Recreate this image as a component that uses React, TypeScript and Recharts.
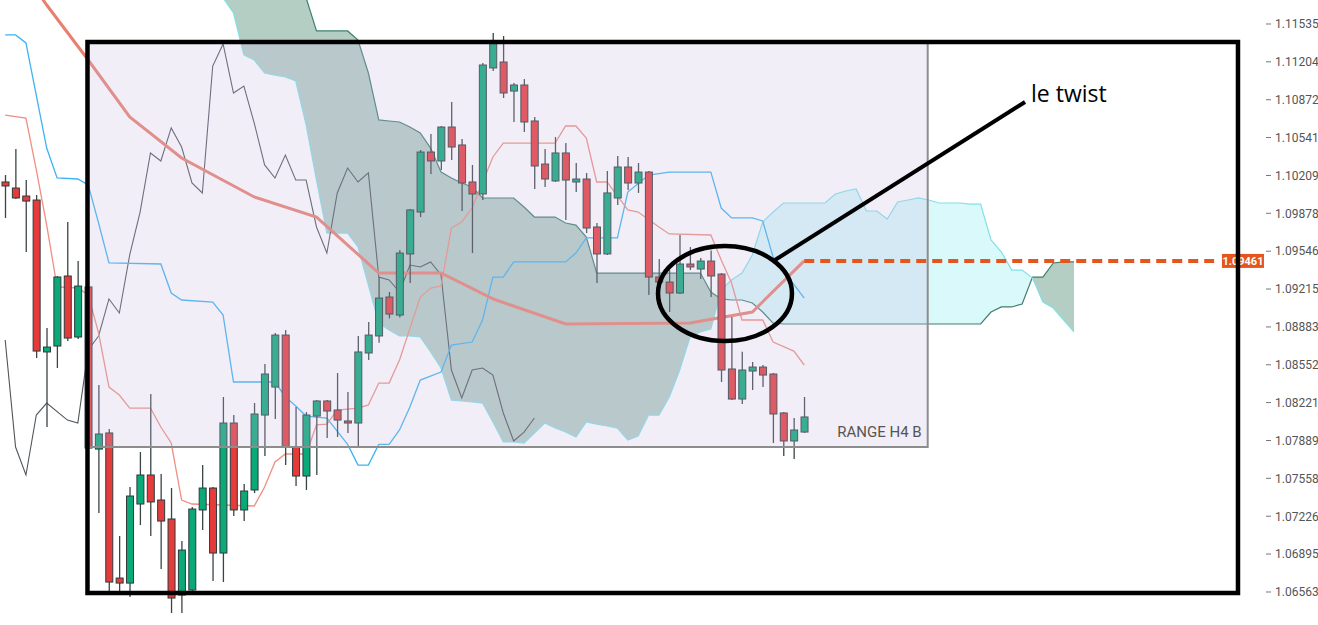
import { ComposedChart, Bar, Line, Area, XAxis, YAxis, ReferenceArea, ReferenceLine, ReferenceDot } from "recharts";

const W = 1318;
const H = 625;
const SLOTS = 122; // 78 candles + 26 forward cloud + right padding
const CLOUD_START = 21;

const Y_MIN = 1.06274;
const Y_MAX = 1.11745;

const priceTicks = [
  1.11535, 1.11204, 1.10872, 1.10541, 1.10209, 1.09878, 1.09546, 1.09215,
  1.08883, 1.08552, 1.08221, 1.07889, 1.07558, 1.07226, 1.06895, 1.06563,
];

const open = [
  1.10152, 1.10099, 1.10029, 1.09994, 1.08664, 1.08716, 1.09329, 1.08795, 1.09233, 1.07814,
  1.07955, 1.06685, 1.06641, 1.07333, 1.07587, 1.07368, 1.07202, 1.06536, 1.0658, 1.07281,
  1.07473, 1.06904, 1.08042, 1.07281, 1.07456, 1.08112, 1.08357, 1.08812, 1.07832, 1.07578,
  1.08103, 1.08235, 1.08156, 1.0806, 1.08042, 1.08655, 1.08804, 1.09145, 1.08987, 1.09522,
  1.09889, 1.10414, 1.10336, 1.10633, 1.10476, 1.10152, 1.10047, 1.1115, 1.11202, 1.10948,
  1.11001, 1.10686, 1.10309, 1.10161, 1.10406, 1.10152, 1.10178, 1.09758, 1.09522, 1.10012,
  1.10283, 1.10143, 1.10239, 1.0932, 1.09276, 1.0918, 1.09434, 1.0939, 1.0946, 1.09346,
  1.08515, 1.08252, 1.08497, 1.08532, 1.08471, 1.0813, 1.07885, 1.07963,
];
const high = [
  1.10213, 1.10441, 1.10169, 1.10038, 1.08874, 1.09329, 1.09802, 1.0946, 1.0925, 1.08375,
  1.0799, 1.07053, 1.07482, 1.07788, 1.08296, 1.07596, 1.07473, 1.07009, 1.07307, 1.07674,
  1.07482, 1.0827, 1.08112, 1.07508, 1.08217, 1.08559, 1.0883, 1.08856, 1.08182, 1.08138,
  1.08243, 1.08243, 1.0848, 1.08313, 1.08804, 1.08926, 1.0932, 1.09189, 1.09557, 1.09915,
  1.10432, 1.10572, 1.10642, 1.10852, 1.10528, 1.10301, 1.11194, 1.11456, 1.1143, 1.11018,
  1.11053, 1.10721, 1.10441, 1.10546, 1.10493, 1.10318, 1.10231, 1.09793, 1.10248, 1.10379,
  1.10371, 1.10318, 1.10248, 1.09478, 1.09381, 1.09688, 1.09583, 1.09487, 1.09553, 1.09355,
  1.0897, 1.08665, 1.08576, 1.0855, 1.0848, 1.08138, 1.08086, 1.0827,
];
const low = [
  1.09837, 1.10003, 1.09539, 1.08611, 1.08007, 1.08524, 1.0876, 1.08777, 1.07806, 1.07254,
  1.06563, 1.06563, 1.06519, 1.07149, 1.07053, 1.06764, 1.06379, 1.06379, 1.06563, 1.07105,
  1.06659, 1.0665, 1.07228, 1.07184, 1.07429, 1.07753, 1.08077, 1.07674, 1.07491, 1.07456,
  1.07587, 1.07911, 1.0792, 1.07955, 1.07841, 1.08594, 1.08744, 1.08958, 1.08966, 1.09268,
  1.09845, 1.10222, 1.10257, 1.10344, 1.09898, 1.0953, 1.09994, 1.11124, 1.10887, 1.10677,
  1.1059, 1.10091, 1.10108, 1.10152, 1.09819, 1.10064, 1.09705, 1.09268, 1.09513, 1.0995,
  1.10082, 1.10056, 1.09163, 1.09206, 1.09014, 1.09171, 1.09381, 1.09303, 1.09145, 1.08401,
  1.08243, 1.08209, 1.08331, 1.08357, 1.07867, 1.07753, 1.07727, 1.07955,
];
const close = [
  1.10117, 1.10012, 1.09985, 1.08672, 1.08707, 1.0932, 1.08786, 1.09241, 1.07823, 1.07946,
  1.0665, 1.06641, 1.07403, 1.07587, 1.07351, 1.07184, 1.0651, 1.0693, 1.07289, 1.07473,
  1.06904, 1.08042, 1.07281, 1.07447, 1.08121, 1.08471, 1.08812, 1.07832, 1.07578, 1.08112,
  1.08235, 1.08147, 1.08068, 1.08042, 1.08664, 1.08812, 1.09136, 1.08996, 1.0953, 1.09907,
  1.10414, 1.10336, 1.10633, 1.10458, 1.10143, 1.10047, 1.11176, 1.11369, 1.10931, 1.11001,
  1.10677, 1.10292, 1.10178, 1.10406, 1.10169, 1.10178, 1.09749, 1.09522, 1.10056, 1.10283,
  1.10143, 1.10239, 1.0932, 1.09276, 1.0918, 1.09434, 1.09408, 1.0946, 1.09329, 1.08506,
  1.08252, 1.08506, 1.08532, 1.08462, 1.08121, 1.07885, 1.07981, 1.08095,
];

// [candle index, price] at each visible vertex
const tenkan: [number, number][] = [
  [0, 1.11439], [1, 1.11439], [2, 1.11369], [4, 1.10449], [5, 1.10187], [7, 1.10178], [8, 1.10126],
  [9, 1.09793], [10, 1.09443], [15, 1.09434], [16, 1.0918], [17, 1.09119], [20, 1.09101], [21, 1.08987],
  [22, 1.08401], [26, 1.08401], [27, 1.0827], [28, 1.08191], [29, 1.08103], [31, 1.08086], [33, 1.07855],
  [34, 1.07674], [35, 1.07674], [36, 1.07855], [37, 1.07855], [38, 1.07981], [39, 1.08182], [40, 1.08418],
  [42, 1.08488], [43, 1.08725], [45, 1.08751], [46, 1.08944], [47, 1.0932], [48, 1.0932], [49, 1.09452],
  [54, 1.09452], [55, 1.0953], [56, 1.09662], [59, 1.09662], [60, 1.10064], [62, 1.10213], [64, 1.10239],
  [68, 1.10239], [69, 1.09924], [70, 1.09837], [72, 1.09837], [73, 1.09811], [74, 1.09495], [77, 1.09136],
];
const kijun: [number, number][] = [
  [0, 1.10738], [2, 1.10712], [3, 1.10257], [4, 1.09775], [5, 1.09233], [7, 1.09224], [8, 1.09163],
  [9, 1.0883], [10, 1.08357], [11, 1.08287], [12, 1.08173], [14, 1.08173], [15, 1.08007], [16, 1.07867],
  [17, 1.07368], [18, 1.07333], [24, 1.07316], [25, 1.07482], [26, 1.07701], [27, 1.07771], [29, 1.07771],
  [30, 1.08025], [31, 1.08033], [32, 1.08156], [34, 1.08173], [35, 1.082], [36, 1.08392], [37, 1.08392],
  [38, 1.08594], [40, 1.09145], [41, 1.09224], [42, 1.09241], [43, 1.09749], [44, 1.09802], [45, 1.09924],
  [47, 1.10371], [48, 1.10493], [53, 1.10493], [54, 1.10642], [55, 1.10642], [56, 1.10537], [57, 1.10152],
  [58, 1.10152], [60, 1.09907], [61, 1.09889], [63, 1.09758], [64, 1.09697], [68, 1.09688], [69, 1.09469],
  [70, 1.09268], [71, 1.08944], [73, 1.08944], [74, 1.08751], [76, 1.08672], [77, 1.0855],
];
const chikou: [number, number][] = [
  [0, 1.08769], [1, 1.07832], [2, 1.07587], [3, 1.08112], [4, 1.08217], [6, 1.08068], [7, 1.08042],
  [8, 1.08681], [9, 1.08804], [10, 1.09128], [11, 1.09005], [12, 1.09513], [13, 1.09889], [14, 1.10406],
  [15, 1.10336], [16, 1.10625], [17, 1.10458], [18, 1.10143], [19, 1.10056], [20, 1.11167], [21, 1.1136],
  [22, 1.10931], [23, 1.10992], [24, 1.10668], [25, 1.10301], [26, 1.10187], [27, 1.10388], [28, 1.10169],
  [29, 1.10169], [30, 1.09758], [31, 1.0953], [32, 1.10056], [33, 1.10274], [34, 1.10152], [35, 1.10231],
  [36, 1.0932], [37, 1.09294], [38, 1.09189], [39, 1.09425], [40, 1.09408], [41, 1.09452], [42, 1.09338],
  [43, 1.08506], [44, 1.08261], [45, 1.08506], [46, 1.08524], [47, 1.08462], [48, 1.0813], [49, 1.07885],
  [50, 1.07963], [51, 1.08086],
];
const h4Line: [number, number][] = [
  [3, 1.11833], [4, 1.11701], [8, 1.1122], [12, 1.10721], [17, 1.10362], [24, 1.10021], [30, 1.09845],
  [36, 1.09355], [42, 1.09355], [47, 1.09128], [54, 1.08909], [66, 1.08917], [72, 1.09014], [77, 1.09461],
];

// leading spans, index 21..103
const spanA = [
  1.12883, 1.12795, 1.12708, 1.1262, 1.12445, 1.1227, 1.12095, 1.1192, 1.11763,
  1.11474, 1.11474, 1.11474, 1.11474,
  1.11395, 1.11106, 1.10695, 1.10686, 1.10677, 1.10633, 1.10581, 1.10449, 1.10239, 1.10187, 1.10143, 1.10108,
  1.10012, 1.10012, 1.10012, 1.10012,
  1.09933, 1.09845, 1.09845, 1.09845, 1.09793, 1.09775, 1.0967,
  1.09355, 1.09355, 1.09355, 1.09355, 1.09355, 1.09355, 1.09355, 1.09355, 1.09355, 1.09355, 1.09355,
  1.09189, 1.09128, 1.09119, 1.09119, 1.09093, 1.09014, 1.08917,
  1.08909, 1.08909, 1.08909, 1.08909, 1.08909, 1.08909, 1.08909, 1.08909, 1.08909, 1.08909,
  1.08909, 1.08909, 1.08909, 1.08909, 1.08909, 1.08909, 1.08909, 1.08909, 1.08909, 1.08909,
  1.09014, 1.09058, 1.09058, 1.09084, 1.0932, 1.0932, 1.09443, 1.09452, 1.09452,
];
const spanB = [
  1.11763, 1.11631, 1.11264, 1.1122, 1.11106, 1.11088, 1.11071, 1.11036, 1.10651,
  1.10169, 1.09705, 1.09705, 1.09705, 1.09583, 1.0925, 1.08917, 1.08856, 1.08804, 1.08804, 1.08795,
  1.08664, 1.08524, 1.08243, 1.08235, 1.08226, 1.08217, 1.08051, 1.07876, 1.07876, 1.07867,
  1.07955, 1.08042, 1.07998, 1.07963, 1.0792, 1.08051, 1.08033, 1.08016, 1.07998, 1.07893,
  1.07928, 1.08112, 1.08112, 1.0827, 1.08506, 1.08795, 1.08839, 1.08865, 1.09206, 1.09294,
  1.09355, 1.09513, 1.09802, 1.09889, 1.09968, 1.09968, 1.09968, 1.09968, 1.09968, 1.10047,
  1.10073, 1.10091, 1.09898, 1.09898, 1.09828, 1.09977, 1.09994, 1.10012, 1.09994, 1.09968,
  1.09968, 1.09968, 1.09959, 1.09959, 1.09644, 1.09539, 1.09381, 1.09381, 1.09311, 1.09101,
  1.09049, 1.08944, 1.08839,
];

const lastPrice = 1.09461;

const GREEN = "#0aa977";
const RED = "#e63b3b";

const pick = (pairs: [number, number][], i: number) => {
  const hit = pairs.find((p) => p[0] === i);
  return hit ? hit[1] : null;
};

const rows = Array.from({ length: SLOTS }, (_, i) => {
  const k = i - CLOUD_START;
  const a = k >= 0 && k < spanA.length ? spanA[k] : null;
  const b = k >= 0 && k < spanB.length ? spanB[k] : null;
  const hasCandle = i < open.length;
  return {
    i,
    hl: hasCandle ? [low[i], high[i]] : null,
    o: hasCandle ? open[i] : null,
    h: hasCandle ? high[i] : null,
    l: hasCandle ? low[i] : null,
    c: hasCandle ? close[i] : null,
    tenkan: pick(tenkan, i),
    kijun: pick(kijun, i),
    chikou: pick(chikou, i),
    h4: pick(h4Line, i),
    spanA: a,
    spanB: b,
    cloud: a != null && b != null ? [a, b] : null,
  };
});

function Candle(props: any) {
  const { x, y, width, height, payload } = props;
  if (!payload || payload.o == null) return null;
  const { o, h, l, c } = payload;
  const top = Math.min(y, y + height);
  const full = Math.abs(height);
  const px = full / (h - l || 1e-9);
  const bodyTop = top + (h - Math.max(o, c)) * px;
  const bodyH = Math.max(1.5, Math.abs(o - c) * px);
  const mid = x + width / 2;
  return (
    <g>
      <line x1={mid} x2={mid} y1={top} y2={top + full} stroke="#3a4446" strokeWidth={1.3} />
      <rect x={x} y={bodyTop} width={width} height={bodyH} fill={c >= o ? GREEN : RED} stroke="#2e3a3c" strokeWidth={1} />
    </g>
  );
}

const lineCommon = { dot: false, activeDot: false, connectNulls: true, isAnimationActive: false } as const;

export default function App() {
  return (
    <div style={{ position: "absolute", left: 0, top: 0, width: W, height: H, background: "#fff" }}>
      <ComposedChart width={W} height={H} data={rows} margin={{ top: 0, right: 0, bottom: 0, left: 0 }}>
        <defs>
          <linearGradient id="kumo" gradientUnits="userSpaceOnUse" x1="0" x2="1266" y1="0" y2="0">
            <stop offset="0" stopColor="#41846b" stopOpacity={0.4} />
            <stop offset="0.568" stopColor="#41846b" stopOpacity={0.4} />
            <stop offset="0.568" stopColor="#80ebee" stopOpacity={0.3} />
            <stop offset="0.8153" stopColor="#80ebee" stopOpacity={0.3} />
            <stop offset="0.8153" stopColor="#41846b" stopOpacity={0.4} />
            <stop offset="1" stopColor="#41846b" stopOpacity={0.4} />
          </linearGradient>
        </defs>
        <XAxis dataKey="i" type="number" domain={[-0.5, 121.5]} hide allowDataOverflow />
        <YAxis
          orientation="right"
          type="number"
          domain={[Y_MIN, Y_MAX]}
          ticks={priceTicks}
          interval={0}
          allowDataOverflow
          width={52}
          axisLine={false}
          tickSize={5}
          tickMargin={4}
          tickLine={{ stroke: "#777" }}
          tick={{ fontSize: 12, fill: "#555", fontFamily: "Roboto" }}
          tickFormatter={(v: number) => v.toFixed(5)}
        />
        <Area dataKey="cloud" stroke="none" fill="url(#kumo)" fillOpacity={1} activeDot={false} connectNulls isAnimationActive={false} zIndex={100} />
        <Line dataKey="spanA" stroke="#3f7f6e" strokeWidth={1.2} {...lineCommon} zIndex={150} />
        <Line dataKey="spanB" stroke="#84dfe8" strokeWidth={1.2} {...lineCommon} zIndex={150} />
        <Line dataKey="chikou" stroke="#50565c" strokeWidth={1.1} {...lineCommon} zIndex={160} />
        <Line dataKey="tenkan" stroke="#3db3f2" strokeWidth={1.3} {...lineCommon} zIndex={160} />
        <Line dataKey="kijun" stroke="#ef8f80" strokeWidth={1.3} {...lineCommon} zIndex={160} />
        <Line dataKey="h4" stroke="#e9806f" strokeWidth={3} {...lineCommon} zIndex={170} />
        <Bar dataKey="hl" barSize={7} shape={Candle} isAnimationActive={false} zIndex={300} />
        <ReferenceArea
          x1={8}
          x2={88.9}
          y1={1.07832}
          y2={1.11377}
          fill="rgb(199,187,227)"
          fillOpacity={0.25}
          stroke="#8d8d8d"
          strokeWidth={2}
          zIndex={350}
          label={(p: any) => (
            <text
              x={p.viewBox.x + p.viewBox.width - 6}
              y={p.viewBox.y + p.viewBox.height - 10}
              textAnchor="end"
              fontSize={15}
              fontFamily="Roboto"
              fill="#555"
            >
              RANGE H4 B
            </text>
          )}
        />
        <ReferenceLine
          segment={[{ x: 77, y: lastPrice }, { x: 116.5, y: lastPrice }]}
          stroke="#e4561e"
          strokeWidth={4}
          strokeDasharray="10 6"
          zIndex={400}
        />
        <ReferenceDot
          x={119.28}
          y={lastPrice}
          r={0}
          zIndex={410}
          shape={(p: any) => (
            <g>
              <rect x={p.cx - 21} y={p.cy - 7} width={42} height={14} fill="#e4561e" />
              <text x={p.cx} y={p.cy + 4} textAnchor="middle" fontSize={11} fontWeight="bold" fontFamily="Roboto" fill="#fff">
                {lastPrice.toFixed(5)}
              </text>
            </g>
          )}
        />
        <ReferenceArea
          x1={62.91}
          x2={75.82}
          y1={1.0876}
          y2={1.09592}
          zIndex={420}
          shape={(p: any) => (
            <ellipse
              cx={p.x + p.width / 2}
              cy={p.y + p.height / 2}
              rx={p.width / 2}
              ry={p.height / 2}
              fill="none"
              stroke="#000"
              strokeWidth={4.5}
            />
          )}
        />
        <ReferenceLine
          segment={[{ x: 74.18, y: 1.09469 }, { x: 98.28, y: 1.10852 }]}
          stroke="#000"
          strokeWidth={4}
          zIndex={420}
        />
        <ReferenceDot
          x={98.86}
          y={1.10852}
          r={0}
          zIndex={430}
          shape={(p: any) => (
            <text x={p.cx} y={p.cy} fontSize={23} fontFamily="Open Sans" fill="#000">
              le twist
            </text>
          )}
        />
        <ReferenceArea
          x1={7.93}
          x2={118.8}
          y1={1.06554}
          y2={1.11377}
          fill="none"
          stroke="#000"
          strokeWidth={4.5}
          zIndex={440}
        />
      </ComposedChart>
    </div>
  );
}
